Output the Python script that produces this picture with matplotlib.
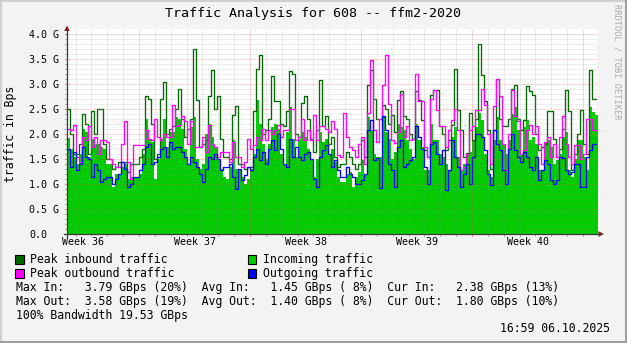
import numpy as np
import matplotlib
matplotlib.use("Agg")
import matplotlib.pyplot as plt
from matplotlib.lines import Line2D
from matplotlib.patches import Polygon, Rectangle

# ---- data (GBps), one value per sample, samples every ~4.5 hours ----
peak_in = [
    2.5, 2.0, 1.6, 1.6, 1.8, 2.4, 2.2, 1.6, 2.45, 2.0, 2.5, 2.5, 1.8, 1.5, 1.5,
    1.3, 1.35, 1.45, 1.45, 1.45, 1.25, 1.4, 1.4, 1.4, 1.55, 1.7, 2.75, 2.7, 2.2,
    1.5, 1.6, 2.7, 3.04, 2.0, 2.1, 2.15, 2.5, 2.9, 2.3, 1.95, 2.1, 2.3, 3.7, 2.68,
    1.75, 1.8, 1.88, 2.75, 3.28, 2.5, 2.75, 1.9, 1.55, 1.55, 1.5, 2.38, 2.55, 1.4,
    1.4, 1.3, 1.35, 1.35, 2.45, 3.3, 3.58, 2.0, 2.08, 2.3, 3.16, 2.65, 2.65, 2.2,
    2.15, 2.45, 3.25, 3.2, 2.0, 1.95, 2.62, 2.75, 2.3, 1.9, 1.65, 2.08, 3.08, 2.15,
    2.35, 1.8,
    1.95, 1.55, 1.35, 1.4, 1.4, 1.65, 1.55, 1.4, 1.3, 1.4, 1.88, 1.55, 2.98, 3.28,
    2.7, 2.3, 2.3, 2.58, 2.5, 2.2, 2.38, 2.05, 2.68, 2.85, 2.35, 2.3, 2.0, 1.9, 2.85,
    2.68, 2.28, 1.68, 1.55, 2.78, 2.88, 2.88, 2.15, 2.0, 1.68, 1.88, 2.18, 3.3, 2.48,
    2.08, 1.55, 1.62, 2.42, 1.88, 2.3, 3.79, 3.18, 2.65, 2.08, 1.3, 2.08, 3.1, 2.3,
    2.15,
    2.15, 2.3, 2.9, 2.98, 2.3, 2.08, 2.28, 2.95, 2.85, 2.78, 2.0, 1.68, 1.75, 1.8,
    2.45, 2.45, 1.9, 1.55, 1.7, 2.1, 2.88, 2.45, 1.28, 1.6, 2.0, 2.48, 1.8, 1.6,
    3.28, 2.7, 2.7,
]
incoming = [
    1.93, 1.7, 1.55, 1.4, 1.6, 2.1, 2.05, 1.55, 1.9, 1.8, 1.8, 1.75, 1.7, 1.4, 1.4,
    0.95, 1.2, 1.2, 1.35, 1.4, 1.1, 1.15, 1.15, 1.15, 1.2, 1.6, 2.3, 1.9, 1.85,
    1.1, 1.5, 1.9, 2.3, 1.75, 2.05, 2.05, 2.35, 2.3, 2.1, 1.7, 1.4, 2.15, 2.35, 1.5,
    1.3, 1.4, 2.0, 2.2, 1.95, 1.75, 1.5, 1.3, 1.15, 1.1, 1.35, 1.88, 1.3, 1.3,
    1.15, 1.0, 1.1, 1.3, 1.6, 2.68, 2.2, 1.8, 1.5, 1.8, 2.15, 2.2, 2.1, 1.6, 1.4,
    2.05, 2.55, 1.9, 1.55, 1.9, 2.05, 1.95, 1.7, 1.5, 1.15, 1.5, 2.05, 1.85, 1.9,
    1.6,
    1.7, 1.45, 1.15, 1.05, 1.05, 1.2, 1.25, 0.95, 1.15, 1.25, 1.48, 1.2, 2.35, 2.08,
    1.6, 1.55, 1.55, 2.35, 2.05, 1.9, 1.5, 1.65, 2.2, 2.15, 2.08, 1.88, 1.7, 1.5, 2.2,
    1.88, 1.75, 1.28, 1.28, 2.2, 1.88, 1.88, 1.6, 1.55, 1.4, 1.28, 1.95, 2.15, 1.55,
    1.28, 1.4, 1.6, 1.65, 1.88, 2.15, 2.42, 2.28, 1.6, 1.28, 1.15, 1.88, 2.35, 1.88,
    1.8,
    1.6, 1.88, 2.4, 2.55, 2.08, 1.6, 2.15, 2.28, 1.88, 1.95, 1.8, 1.28, 1.28, 1.85,
    1.88, 1.75, 1.4, 1.48, 1.6, 1.95, 2.05, 1.28, 1.15, 1.5, 1.88, 1.88, 1.55, 1.28,
    2.55, 2.45, 2.38,
]
peak_out = [
    2.1, 2.08, 2.18, 1.55, 1.45, 1.95, 1.88, 2.15, 1.75, 1.95, 1.6, 1.88, 1.88, 1.85,
    1.5, 1.4, 1.35, 1.35, 1.8, 2.25, 1.45, 1.1, 1.78, 1.78, 1.78, 1.78, 2.08, 1.9, 1.88,
    2.3, 1.95, 1.88, 2.0, 1.95, 1.95, 2.58, 2.15, 2.18, 2.35, 2.25, 1.8, 2.25, 1.75,
    1.75, 1.75, 1.95, 1.65, 2.18, 1.8, 1.75, 1.55, 1.65, 1.65, 1.65, 1.45, 1.85, 1.55,
    1.55,
    1.35, 1.45, 1.9, 1.7, 1.78, 1.95, 1.88, 2.1, 1.88, 2.08, 2.0, 2.08, 2.18, 1.95,
    2.08, 2.08, 2.5, 2.5, 1.88, 1.95, 2.3, 1.88, 2.08, 1.88, 2.38, 1.88, 2.15, 2.15,
    2.1, 2.05,
    2.25, 2.1, 1.58, 1.55, 2.42, 1.95, 1.75, 1.68, 1.55, 1.8, 1.95, 1.4, 2.42, 3.48,
    2.08, 1.85, 2.3, 2.98, 3.58, 2.6, 1.88, 1.82, 2.05, 2.8, 1.95, 2.15, 1.88, 1.9, 3.2,
    2.65, 2.65, 1.75, 1.55, 2.7, 2.88, 2.48, 2.15, 2.15, 1.75, 2.08, 2.28, 2.5, 2.08,
    1.28, 1.35, 1.6, 2.08, 2.15, 2.48, 2.48, 2.9, 2.58, 2.0, 1.4, 2.55, 3.1, 2.75, 1.8,
    1.28, 2.0, 2.88, 2.35, 2.25, 1.6, 1.68, 2.08, 2.18, 2.0, 2.15, 1.8, 1.4, 1.85,
    1.95, 1.55, 1.8, 1.55, 1.95, 2.35, 1.8, 1.55, 1.4, 1.78, 1.78, 1.5, 1.6, 2.3, 2.3,
    2.08, 2.08,
]
outgoing = [
    1.7, 1.35, 1.65, 1.28, 1.4, 1.75, 1.55, 1.5, 1.15, 1.4, 1.28, 1.05, 1.1, 1.15,
    1.15, 1.0, 1.1, 1.2, 1.45, 1.3, 0.95, 1.0, 1.15, 1.15, 1.28, 1.4, 1.75, 1.8, 1.4,
    1.45, 1.55, 1.7, 1.75, 1.55, 1.85, 1.7, 1.75, 1.75, 1.65, 1.55, 1.4, 1.55, 1.45,
    1.35, 1.2, 1.05, 1.3, 1.55, 1.5, 1.6, 1.5, 1.28, 1.35, 1.35, 1.4, 1.15, 0.9, 1.3,
    1.08, 1.18, 1.35, 1.28, 1.55, 1.7, 1.48, 1.65, 1.4, 1.7, 1.88, 1.68, 2.0, 1.7,
    1.4, 1.35, 1.9, 1.55, 1.75, 1.55, 1.48, 1.6, 1.65, 1.5, 1.1, 0.95, 1.55, 1.68,
    1.78, 1.6,
    1.35, 1.48, 1.28, 1.15, 1.15, 1.35, 1.2, 1.15, 1.0, 1.0, 1.08, 1.2, 2.08, 2.28,
    1.48, 1.52, 0.92, 2.35, 2.08, 1.4, 1.28, 0.95, 1.75, 1.88, 1.35, 1.4, 1.48, 1.55,
    2.15,
    1.95, 1.7, 1.35, 1.0, 1.8, 1.85, 1.6, 1.4, 1.68, 0.88, 1.28, 1.88, 1.55, 1.35,
    0.95, 1.2, 1.4, 1.0, 1.55, 2.0, 2.0, 1.95, 1.68, 1.2, 0.98, 2.08, 1.8, 1.68, 1.28,
    1.0, 1.7, 2.0, 1.68, 1.55, 1.45, 1.65, 1.55, 1.35, 1.28, 1.55, 1.08, 1.28, 1.48,
    1.4, 1.08, 1.0, 1.08, 1.55, 1.52, 1.28, 1.2, 1.25, 1.4, 1.4, 0.95, 0.95, 1.55,
    1.68, 1.8, 1.8,
]

week_labels = ["Week 36", "Week 37", "Week 38", "Week 39", "Week 40"]
week_starts = [0, 7, 14, 21, 28]           # days since Mon 1 Sep 2025
y_labels = ["0.0", "0.5 G", "1.0 G", "1.5 G", "2.0 G", "2.5 G", "3.0 G", "3.5 G", "4.0 G"]

t_start = 2.46                              # days since 1 Sep
t_end = 35.88
sample_days = 4.54 / 24.0

# ---- colours (rrdtool style) ----
C_BACK = "#F3F3F3"
C_PEAK_IN = "#006600"
C_IN = "#00CC00"
C_PEAK_OUT = "#FF00FF"
C_OUT = "#0000FF"
C_GRID = "#8F8F8F"
C_MGRID = "#DE5050"
C_AXIS = "#3A3A3A"
C_ARROW = "#7F1F1F"
MONO = "DejaVu Sans Mono"

W, H, DPI = 627, 343, 100
fig = plt.figure(figsize=(W / DPI, H / DPI), dpi=DPI, facecolor=C_BACK)


def P(x, y):
    """pixel position measured from the top-left corner -> figure fraction"""
    return x / W, 1 - y / H


# plot canvas: x 67..597 px, value 0 at y=234, 1 G = 50 px
x0, y0 = 67, 234
ax = fig.add_axes([x0 / W, 1 - y0 / H, (597 - x0) / W, 205 / H])
ax.set_facecolor("white")
ax.set_xlim(t_start, t_end)
ax.set_ylim(0, 4.1)
for s in ax.spines.values():
    s.set_visible(False)

n = len(incoming)
t = t_start + np.arange(n + 1) * sample_days


def ext(v):
    v = np.asarray(v, dtype=float)
    return np.append(v, v[-1])


ax.fill_between(t, 0, ext(incoming), step="post", color=C_IN, lw=0, zorder=2)
ax.step(t, ext(peak_in), where="post", color=C_PEAK_IN, lw=0.95, zorder=3)
ax.step(t, ext(peak_out), where="post", color=C_PEAK_OUT, lw=0.95, zorder=4)
ax.step(t, ext(outgoing), where="post", color=C_OUT, lw=0.95, zorder=5)

# grid (drawn over the graph, semi-transparent dotted lines)
dots = (0, (1, 1))
for k in range(1, 41):
    v = k / 10
    if k % 5 == 0:
        ax.axhline(v, color=C_MGRID, alpha=0.45, lw=0.72, ls=dots, zorder=6)
    else:
        ax.axhline(v, color=C_GRID, alpha=0.3, lw=0.72, ls=dots, zorder=6)
for d in range(3, 36):
    if d % 7 == 0:
        ax.axvline(d, color=C_MGRID, alpha=0.45, lw=0.72, ls=dots, zorder=6)
    else:
        ax.axvline(d, color=C_GRID, alpha=0.3, lw=0.72, ls=dots, zorder=6)

# tick labels
ax.set_yticks(np.arange(0, 4.01, 0.5))
ax.set_yticklabels(y_labels, fontfamily=MONO, fontsize=7.2, ha="left")
ax.tick_params(axis="y", length=0, pad=27.2)
ax.set_xticks([ws + 3.5 for ws in week_starts])
ax.set_xticklabels(week_labels, fontfamily=MONO, fontsize=7.2)
ax.tick_params(axis="x", length=0, pad=2.2)

# small axis ticks
for d in range(3, 36):
    col = C_MGRID if d % 7 == 0 else C_GRID
    ax.plot([d, d], [0, -0.04], color=col, lw=0.7, alpha=0.7, clip_on=False, zorder=7)
for k in range(0, 41):
    col = C_MGRID if k % 5 == 0 else C_GRID
    ax.plot([t_start - 0.12, t_start], [k / 10, k / 10], color=col, lw=0.7,
            alpha=0.7, clip_on=False, zorder=7)

# axes with arrows
fig.add_artist(Line2D(*zip(P(67, 236), P(67, 30)), transform=fig.transFigure,
                      color=C_AXIS, lw=0.9))
fig.add_artist(Line2D(*zip(P(64, 234), P(599, 234)), transform=fig.transFigure,
                      color=C_AXIS, lw=0.9))
fig.add_artist(Polygon([P(64.2, 31), P(69.8, 31), P(67, 25.5)], closed=True,
                       transform=fig.transFigure, color=C_ARROW, lw=0))
fig.add_artist(Polygon([P(598.5, 231.2), P(598.5, 236.8), P(604, 234)], closed=True,
                       transform=fig.transFigure, color=C_ARROW, lw=0))

# title, axis label, watermark
fig.text(*P(313, 13), "Traffic Analysis for 608 -- ffm2-2020", fontfamily=MONO,
         fontsize=9.6, ha="center", va="center")
fig.text(*P(11, 134), "traffic in Bps", fontfamily=MONO, fontsize=8.3,
         rotation=90, ha="center", va="center")
fig.text(*P(617, 62), "RRDTOOL / TOBI OETIKER", fontfamily=MONO, fontsize=6.2,
         rotation=270, ha="center", va="center", color="#ABABAB")

# legend
legend_items = [
    (15.5, 259.5, C_PEAK_IN, "Peak inbound traffic", 30),
    (248, 259.5, C_IN, "Incoming traffic", 263),
    (15.5, 273.5, C_PEAK_OUT, "Peak outbound traffic", 30),
    (248, 273.5, C_OUT, "Outgoing traffic", 263),
]
for bx, by, col, label, tx in legend_items:
    fx, fy = P(bx, by + 4.5)
    fig.add_artist(Rectangle((fx, fy), 8.5 / W, 9 / H, transform=fig.transFigure,
                             facecolor=col, edgecolor="black", lw=0.8))
    fig.text(*P(tx, by), label, fontfamily=MONO, fontsize=8.3, ha="left", va="center")

stats = [
    "Max In:   3.79 GBps (20%)  Avg In:   1.45 GBps ( 8%)  Cur In:   2.38 GBps (13%)",
    "Max Out:  3.58 GBps (19%)  Avg Out:  1.40 GBps ( 8%)  Cur Out:  1.80 GBps (10%)",
    "100% Bandwidth 19.53 GBps",
]
for i, line in enumerate(stats):
    fig.text(*P(16, 287 + 14 * i), line, fontfamily=MONO, fontsize=8.3,
             ha="left", va="center")
fig.text(*P(610, 328), "16:59 06.10.2025", fontfamily=MONO, fontsize=8.3,
         ha="right", va="center")

# frame around the image
fig.add_artist(Line2D([0, 1], [1 - 1 / H, 1 - 1 / H], transform=fig.transFigure,
                      color="#CFCFCF", lw=1.5))
fig.add_artist(Line2D([1 / W, 1 / W], [0, 1], transform=fig.transFigure,
                      color="#CFCFCF", lw=1.5))
fig.add_artist(Line2D([0, 1], [1.5 / H, 1.5 / H], transform=fig.transFigure,
                      color="#9E9E9E", lw=2.2))
fig.add_artist(Line2D([1 - 1.5 / W, 1 - 1.5 / W], [0, 1], transform=fig.transFigure,
                      color="#9E9E9E", lw=2.2))

fig.savefig("out.png", dpi=DPI, facecolor=C_BACK)
